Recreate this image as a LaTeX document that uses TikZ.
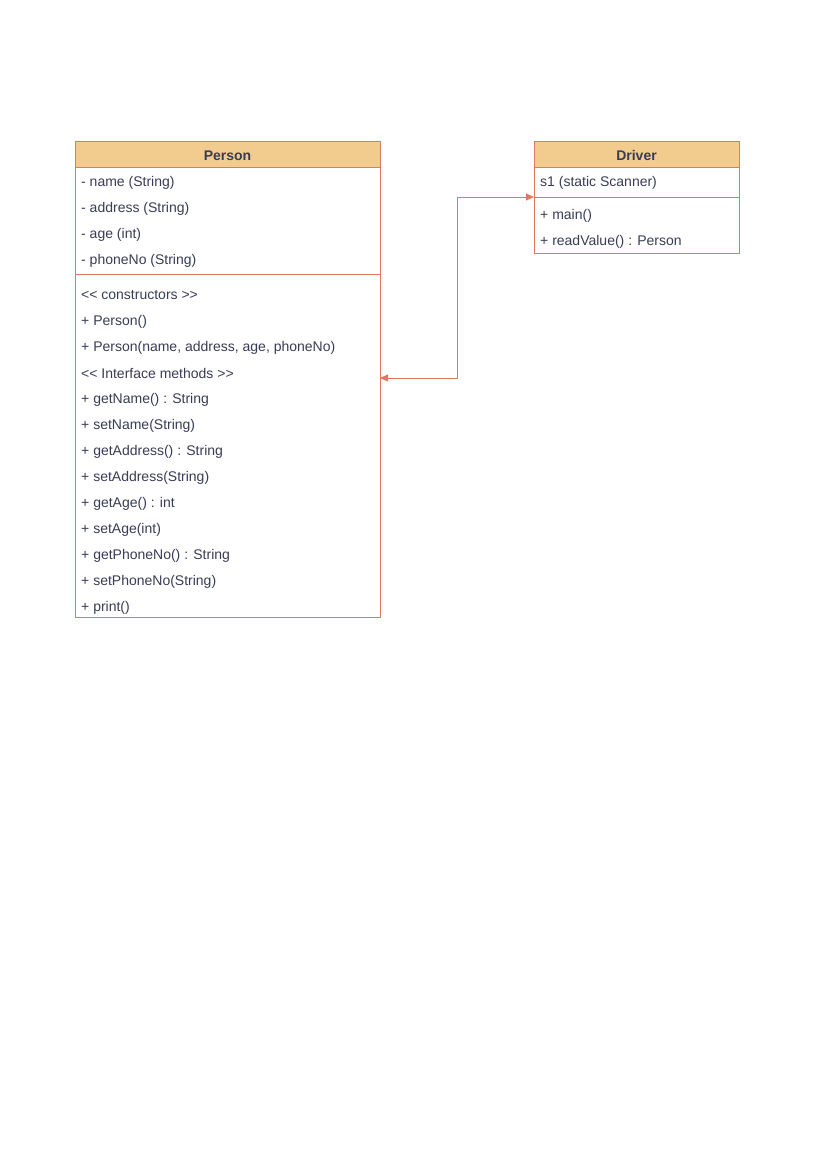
\documentclass[tikz,border=0pt]{standalone}
\usepackage{fontspec}
\setmainfont{Liberation Sans}[Ligatures=TeXOff]
\usetikzlibrary{arrows.meta}
\definecolor{strk}{HTML}{E07A5F}
\definecolor{hdr}{HTML}{F2CC8F}
\definecolor{txt}{HTML}{393C56}
\tikzset{
  box/.style={draw=strk, line width=0.9pt, fill=white},
  head/.style={draw=strk, line width=0.9pt, fill=hdr},
  title/.style={font=\fontsize{14}{16}\selectfont\bfseries, text=txt, anchor=center, inner sep=0pt},
  row/.style={font=\fontsize{14}{16}\selectfont, text=txt, anchor=west, inner sep=0pt},
  sep/.style={draw=strk, line width=0.9pt},
  conn/.style={draw=strk, line width=0.9pt, {Triangle[length=8pt,width=7pt]}-{Triangle[length=8pt,width=7pt]}}
}
\begin{document}
\begin{tikzpicture}[x=1pt,y=-1pt]
\useasboundingbox (0,0) rectangle (827,1169);
% Person
\draw[box] (75,141) rectangle (380,617);
\draw[head] (75,141) rectangle (380,167);
\node[title] (ptitle) at (227.5,155.5) {Person};
\draw[sep] (75,274) -- (380,274);
\node[row] (p1) at (81,182.5) {- name (String)};
\node[row] (p2) at (81,208.5) {- address (String)};
\node[row] (p3) at (81,234.5) {- age (int)};
\node[row] (p4) at (81,260.5) {- phoneNo (String)};
\foreach \t [count=\i from 0] in {{<< constructors >>},{+ Person()},{+ Person(name, address, age, phoneNo)},{<< Interface methods >>},{+ getName() : String},{+ setName(String)},{+ getAddress() : String},{+ setAddress(String)},{+ getAge() : int},{+ setAge(int)},{+ getPhoneNo() : String},{+ setPhoneNo(String)},{+ print()}}
  \node[row] (pm\i) at (81,{295.5+26*\i}) {\t};
% Driver
\draw[box] (534,141) rectangle (739,253);
\draw[head] (534,141) rectangle (739,167);
\node[title] (dtitle) at (636.5,155.5) {Driver};
\draw[sep] (534,197) -- (739,197);
\node[row] (d1) at (540,182.5) {s1 (static Scanner)};
\node[row] (d2) at (540,215.5) {+ main()};
\node[row] (d3) at (540,241.5) {+ readValue() : Person};
% connector
\coordinate (pe) at (380,378);
\coordinate (de) at (534,197);
\draw[conn] (pe) -- (457,378) -- (457,197) -- (de);
\end{tikzpicture}
\end{document}
